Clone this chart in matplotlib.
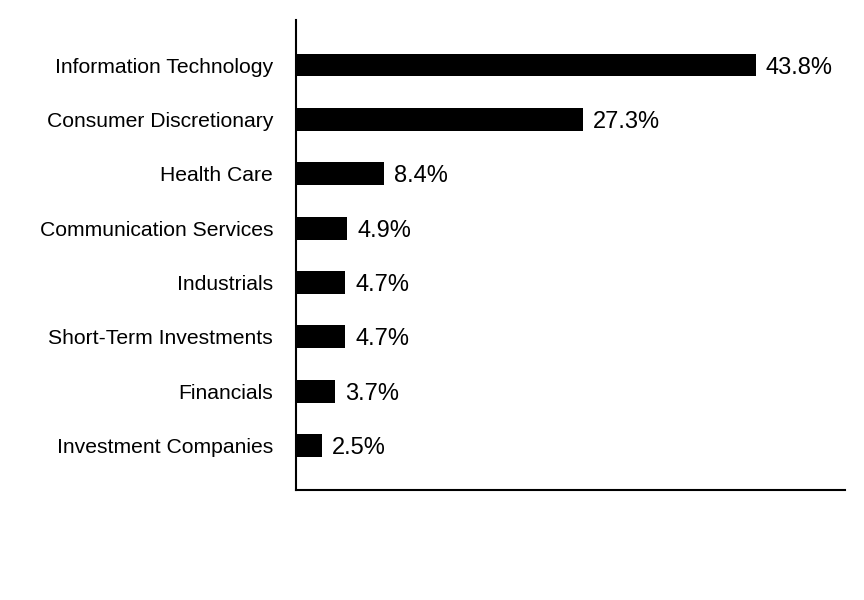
import matplotlib
matplotlib.use("Agg")
import matplotlib.pyplot as plt

plt.rcParams['font.family'] = ['Liberation Sans', 'DejaVu Sans']

sectors = [
    "Information Technology",
    "Consumer Discretionary",
    "Health Care",
    "Communication Services",
    "Industrials",
    "Short-Term Investments",
    "Financials",
    "Investment Companies",
]
weights = [43.8, 27.3, 8.4, 4.9, 4.7, 4.7, 3.7, 2.5]

fig = plt.figure(figsize=(8.64, 6), dpi=100)
ax = fig.add_axes([0.3426, 0.1833, 0.6354, 0.7834])

ypos = list(range(len(sectors)))
ax.barh(ypos, weights, height=0.42, color='black')

for y, w in zip(ypos, weights):
    ax.text(w + 0.95, y + 0.05, f"{w}%", va='center', ha='left', fontsize=17)

ax.set_yticks(ypos)
ax.set_yticklabels(sectors, fontsize=15.2)
ax.tick_params(axis='y', length=0, pad=16.5)
ax.set_xticks([])
ax.set_xlim(0, 52.3)
ax.set_ylim(7.82, -0.83)

for side in ['top', 'right']:
    ax.spines[side].set_visible(False)
ax.spines['left'].set_linewidth(1.5)
ax.spines['bottom'].set_linewidth(1.5)

fig.savefig("out.png", dpi=100)
